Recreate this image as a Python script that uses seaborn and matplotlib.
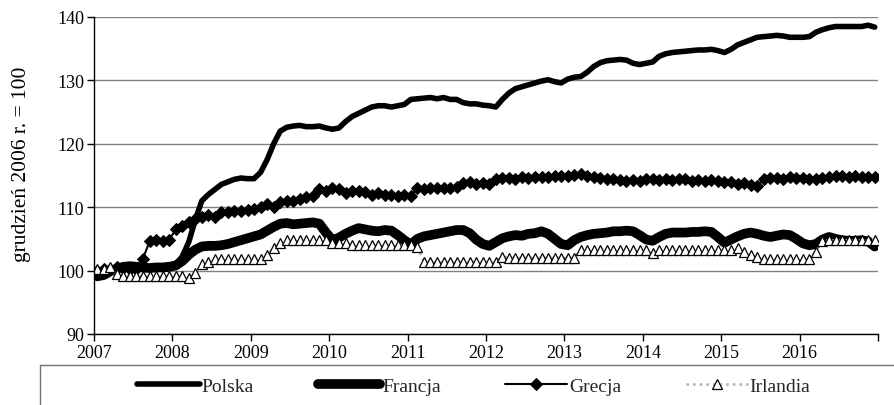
import numpy as np
import pandas as pd
import matplotlib
matplotlib.use("Agg")
import matplotlib.pyplot as plt
from matplotlib.patches import Rectangle
import seaborn as sns

# --- data: monthly index, Dec 2006 = 100, Jan 2007 .. Dec 2016 ---
polska = [
    99.2, 99.3, 99.8, 100.3, 100.5, 100.7, 100.4, 100.2, 100.2, 100.4, 100.3, 100.4,
    101.0, 102.2, 104.5, 108.0, 111.0, 112.0, 112.8, 113.6, 114.0, 114.4, 114.6, 114.5,
    114.5, 115.5, 117.5, 120.0, 122.0, 122.6, 122.8, 122.9, 122.7, 122.7, 122.8, 122.5,
    122.3, 122.5, 123.5, 124.3, 124.8, 125.3, 125.8, 126.0, 126.0, 125.8, 126.0, 126.2,
    127.0, 127.1, 127.2, 127.3, 127.1, 127.3, 127.0, 127.0, 126.5, 126.3, 126.3, 126.1,
    126.0, 125.8, 127.0, 128.0, 128.7, 129.0, 129.3, 129.6, 129.9, 130.1, 129.8, 129.6,
    130.2, 130.5, 130.6, 131.3, 132.2, 132.8, 133.1, 133.2, 133.3, 133.2, 132.7, 132.5,
    132.7, 132.9, 133.8, 134.2, 134.4, 134.5, 134.6, 134.7, 134.8, 134.8, 134.9, 134.7,
    134.4, 134.9, 135.6, 136.0, 136.4, 136.8, 136.9, 137.0, 137.1, 137.0, 136.8, 136.8,
    136.8, 136.9, 137.6, 138.0, 138.3, 138.5, 138.5, 138.5, 138.5, 138.5, 138.7, 138.4,
]
francja = [
    99.1, 99.3, 99.9, 100.3, 100.6, 100.7, 100.6, 100.5, 100.4, 100.5, 100.5, 100.6,
    100.8, 101.5, 102.5, 103.3, 103.8, 103.9, 103.9, 104.0, 104.2, 104.5, 104.8, 105.1,
    105.4, 105.7, 106.3, 106.9, 107.4, 107.5, 107.3, 107.4, 107.5, 107.6, 107.4, 106.0,
    104.8, 105.2, 105.8, 106.3, 106.7, 106.5, 106.3, 106.2, 106.4, 106.3, 105.6, 104.8,
    104.1, 105.0, 105.4, 105.6, 105.8, 106.0, 106.2, 106.4, 106.4, 105.9, 104.9, 104.2,
    103.9, 104.5, 105.1, 105.4, 105.6, 105.5, 105.8, 105.9, 106.2, 105.8, 105.0, 104.2,
    104.0, 104.8, 105.3, 105.6, 105.8, 105.9, 106.0, 106.2, 106.2, 106.3, 106.2, 105.6,
    104.9, 104.7, 105.3, 105.8, 106.0, 106.0, 106.0, 106.1, 106.1, 106.2, 106.1, 105.3,
    104.4, 104.9, 105.4, 105.8, 106.0, 105.8, 105.5, 105.3, 105.5, 105.7, 105.6, 105.0,
    104.3, 104.0, 104.2, 104.9, 105.3, 105.0, 104.8, 104.7, 104.7, 104.8, 104.6, 103.8,
]
grecja = [
    100.0, 100.2, 100.3, 100.5, 100.4, 100.3, 100.2, 101.9, 104.6, 104.8, 104.6, 104.8,
    106.5, 107.0, 107.6, 108.2, 108.5, 108.8, 108.4, 109.3, 109.3, 109.4, 109.4, 109.5,
    109.7, 110.0, 110.5, 110.0, 110.8, 111.0, 111.0, 111.3, 111.6, 111.8, 112.8, 112.6,
    113.0, 112.8, 112.3, 112.5, 112.6, 112.4, 112.0, 112.3, 112.0, 111.9, 111.8, 112.0,
    111.8, 113.0, 112.9, 113.0, 113.0, 113.1, 113.0, 113.2, 113.8, 113.9, 113.7, 113.8,
    113.6, 114.4, 114.6, 114.6, 114.5, 114.7, 114.6, 114.8, 114.7, 114.8, 115.0, 114.9,
    115.0, 115.1, 115.3, 115.0, 114.7, 114.6, 114.4, 114.5, 114.3, 114.2, 114.3, 114.2,
    114.5, 114.4, 114.3, 114.4, 114.3, 114.4, 114.4, 114.2, 114.3, 114.1, 114.3, 114.2,
    113.9, 113.9, 113.7, 113.8, 113.5, 113.3, 114.5, 114.6, 114.6, 114.5, 114.7, 114.6,
    114.6, 114.5, 114.4, 114.6, 114.7, 114.9, 115.0, 114.8, 114.9, 114.7, 114.8, 114.8,
]
irlandia = [
    100.2, 100.3, 100.5, 99.4, 99.2, 99.2, 99.2, 99.2, 99.2, 99.2, 99.2, 99.2,
    99.2, 99.2, 98.9, 99.6, 101.0, 101.4, 101.8, 101.9, 101.9, 101.9, 101.9, 101.9,
    101.9, 101.9, 102.5, 103.5, 104.4, 104.8, 104.8, 104.8, 104.8, 104.8, 104.8, 104.8,
    104.3, 104.3, 104.3, 104.1, 104.1, 104.1, 104.1, 104.1, 104.1, 104.1, 104.1, 104.1,
    104.1, 103.8, 101.4, 101.3, 101.3, 101.3, 101.3, 101.3, 101.3, 101.3, 101.3, 101.3,
    101.3, 101.3, 102.2, 102.0, 102.0, 102.0, 102.0, 102.0, 102.0, 102.0, 102.0, 102.0,
    102.0, 102.0, 103.3, 103.3, 103.3, 103.3, 103.3, 103.3, 103.3, 103.3, 103.3, 103.3,
    103.3, 102.8, 103.3, 103.3, 103.3, 103.3, 103.3, 103.3, 103.3, 103.3, 103.3, 103.3,
    103.3, 103.3, 103.6, 103.0, 102.5, 102.2, 101.9, 101.9, 101.9, 101.9, 101.9, 101.9,
    101.9, 101.9, 103.0, 104.6, 104.8, 104.8, 104.8, 104.8, 104.8, 104.8, 104.8, 104.8,
]
years = list(range(2007, 2018))
year_labels = [str(y) for y in range(2007, 2017)] + [""]

# monthly positions: centre of each month on a continuous year axis
x = 2007 + (np.arange(len(polska)) + 0.5) / 12
df = pd.DataFrame({"x": x, "Polska": polska, "Francja": francja,
                   "Grecja": grecja, "Irlandia": irlandia})

sns.set_theme(style="white")
plt.rcParams["font.family"] = ["Liberation Serif", "DejaVu Serif"]

fig = plt.figure(figsize=(8.95, 4.06), dpi=100)
ax = fig.add_axes([94 / 895, 1 - 335 / 406, (878 - 94) / 895, (335 - 18) / 406])

sns.lineplot(data=df, x="x", y="Polska", ax=ax, color="black", linewidth=4.0,
             label="Polska", solid_capstyle="round")
sns.lineplot(data=df, x="x", y="Francja", ax=ax, color="black", linewidth=7.0,
             label="Francja", solid_capstyle="round")
sns.lineplot(data=df, x="x", y="Grecja", ax=ax, color="black", linewidth=1.5,
             marker="D", markersize=6, markeredgecolor="black", label="Grecja")
sns.lineplot(data=df, x="x", y="Irlandia", ax=ax, color="#b0b0b0", linewidth=1.8,
             linestyle=":", marker="^", markersize=6.5, markerfacecolor="white",
             markeredgecolor="black", markeredgewidth=0.9, label="Irlandia")

ax.set_xlim(2007, 2017)
ax.set_ylim(90, 140)
ax.set_yticks(range(90, 141, 10))
ax.set_xticks(years)
ax.set_xticklabels(year_labels)
ax.yaxis.grid(True, color="#808080", linewidth=1)
ax.set_axisbelow(True)
for s in ["top", "right"]:
    ax.spines[s].set_visible(False)
for s in ["left", "bottom"]:
    ax.spines[s].set_color("black")
    ax.spines[s].set_linewidth(1)
ax.tick_params(axis="both", direction="out", length=5, width=1, color="black",
               labelsize=13, labelcolor="black", bottom=True, left=True, pad=2)
ax.set_xlabel("")
ax.set_ylabel("grudzień 2006 r. = 100", fontsize=15.5, color="black")
ax.yaxis.set_label_coords(-0.080, 0.54)

handles, labels = ax.get_legend_handles_labels()
ax.legend_.remove()
fig.legend(handles, labels, loc="center left", bbox_to_anchor=(120 / 895, 1 - 387 / 406),
           ncol=4, frameon=False, fontsize=14, handlelength=3.2, handletextpad=0.1,
           columnspacing=3.3)
fig.add_artist(Rectangle((40 / 895, -0.1), 1.0, 0.1 + 1 - 366 / 406, transform=fig.transFigure,
                         facecolor="none", edgecolor="#707070", linewidth=1))

fig.savefig("out.png", dpi=100)
